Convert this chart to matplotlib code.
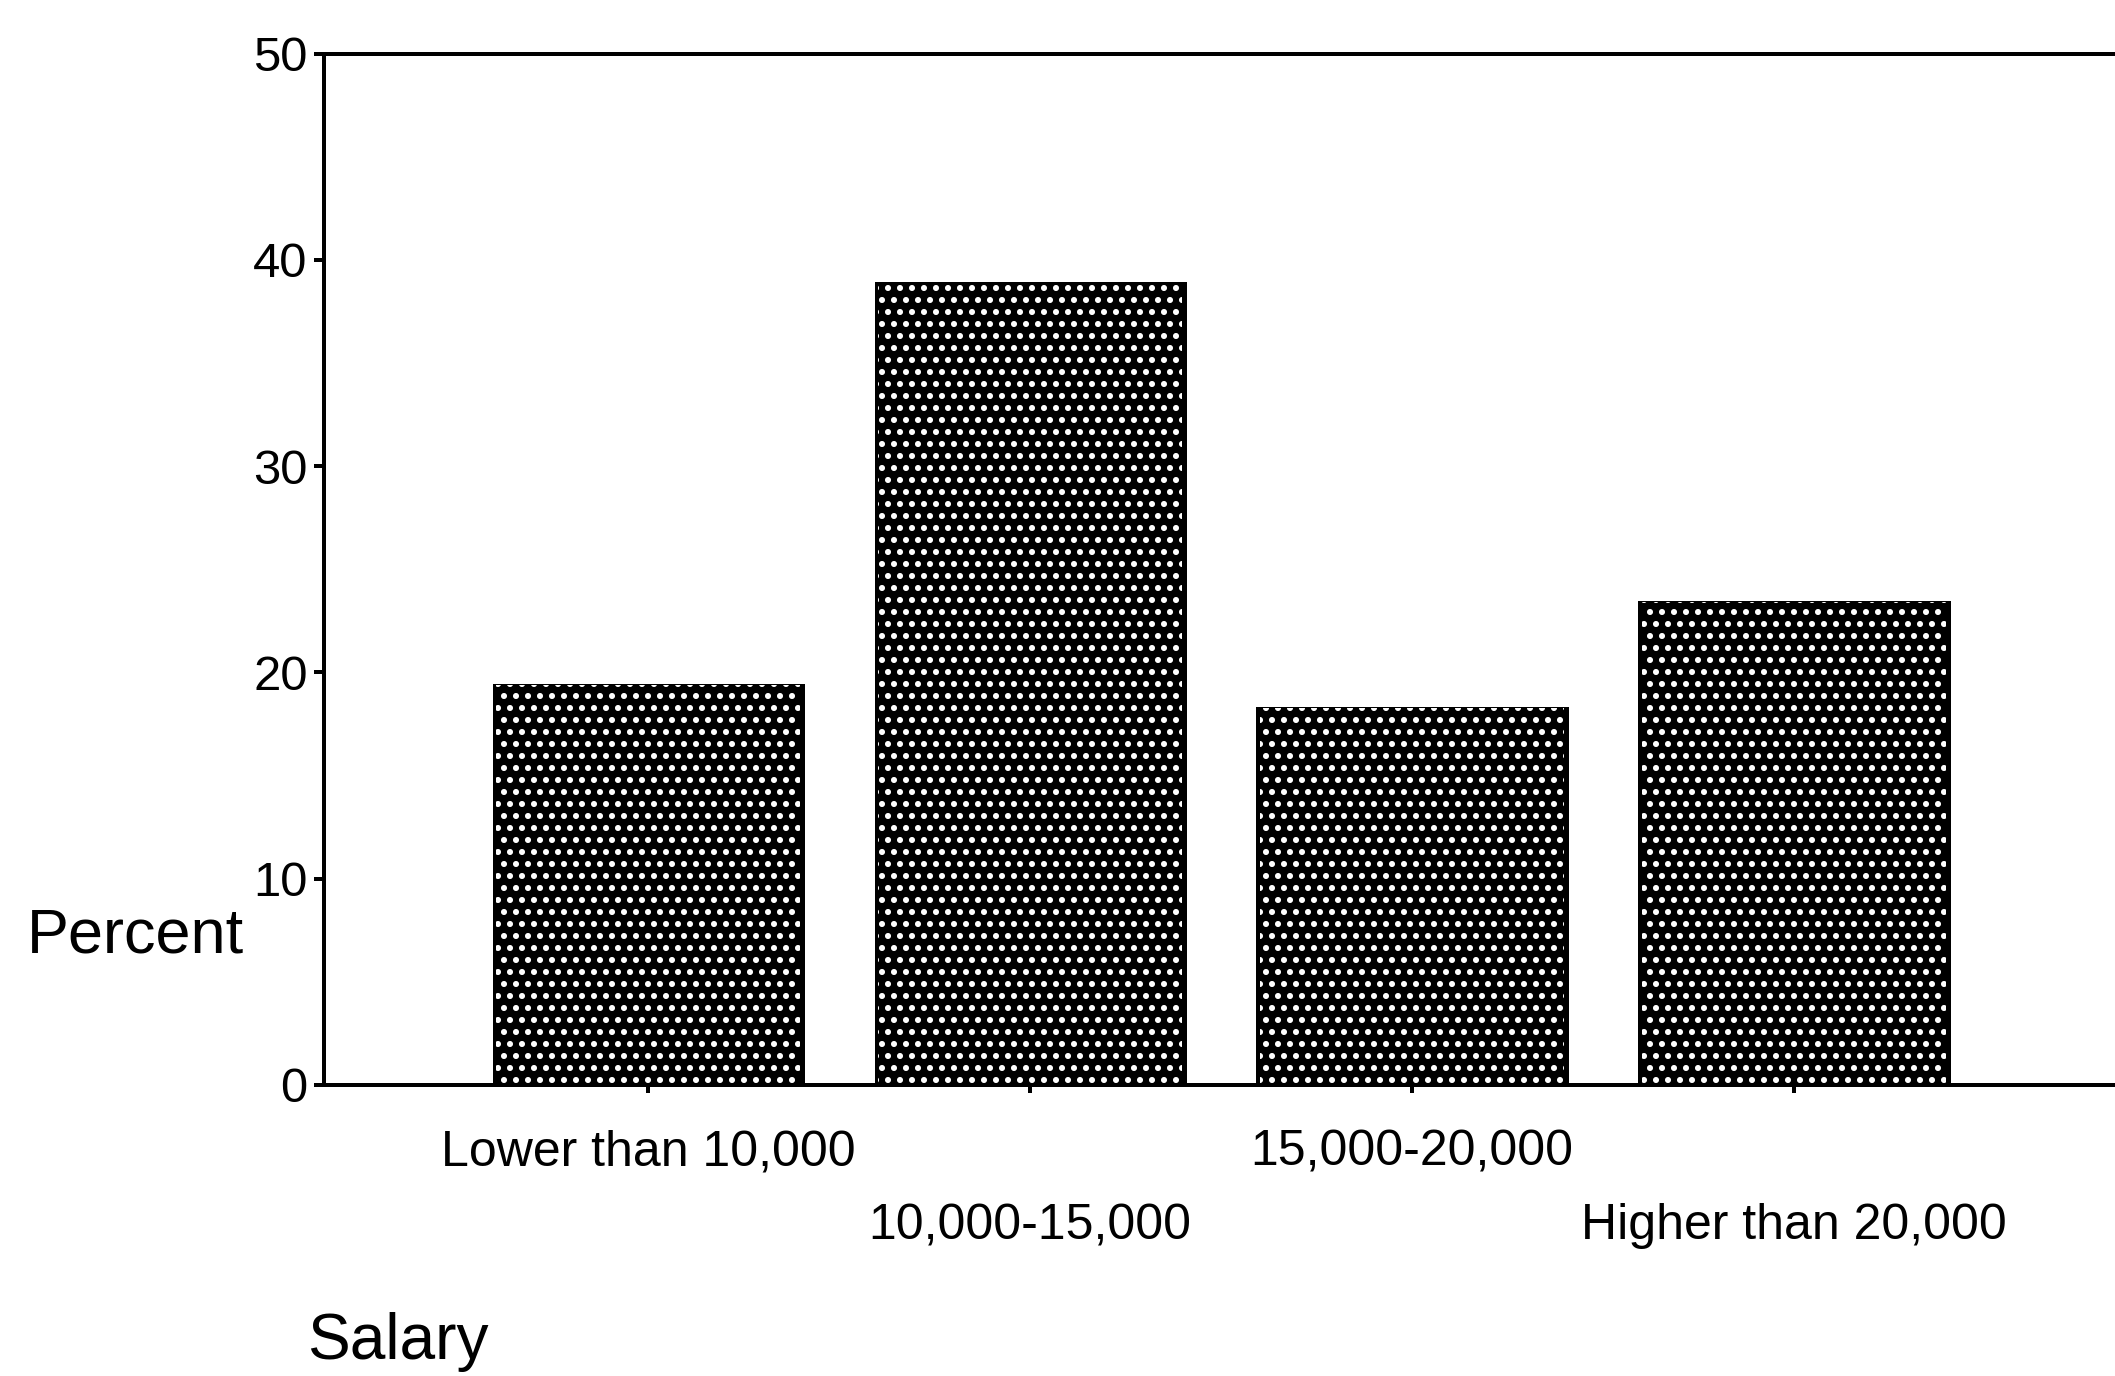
import numpy as np
import matplotlib.pyplot as plt
import matplotlib as mpl

mpl.rcParams['font.family'] = ['Liberation Sans', 'DejaVu Sans']
mpl.rcParams['hatch.color'] = 'white'
mpl.rcParams['hatch.linewidth'] = 1.8

#%% data

categories = ['Lower than 10,000', '10,000-15,000', '15,000-20,000', 'Higher than 20,000']
percent = [19.4, 38.9, 18.3, 23.4]
yticks = [0, 10, 20, 30, 40, 50]

#%% figure  (dpi 144 so the hatch dots come out about as coarse as the scan)

DPI = 144
fig = plt.figure(figsize=(2115 / DPI, 1376 / DPI), dpi=DPI)
ax = fig.add_axes([0.153, 0.2115, 0.847, 0.7495])

x = np.arange(len(categories))
# black bars, then white dot hatching laid over them
ax.bar(x, percent, width=0.81, color='black', edgecolor='black', linewidth=1.5)
ax.bar(x, percent, width=0.795, color='none', edgecolor='white', hatch='..', linewidth=0)

ax.set_xlim(-0.85, 3.84)
ax.set_ylim(0, 50)

ax.set_yticks(yticks)
ax.set_yticklabels([str(t) for t in yticks], fontsize=24.5)
ax.tick_params(axis='y', direction='out', length=5, width=2, pad=3)
ax.set_xticks(x)
ax.set_xticklabels([''] * len(x))
ax.tick_params(axis='x', direction='out', length=4, width=2)

for s in ['left', 'top', 'bottom']:
    ax.spines[s].set_linewidth(2)
ax.spines['right'].set_visible(False)

# staggered category labels
for i, lab in enumerate(categories):
    yoff = -0.065 if i % 2 == 0 else -0.137
    ax.text(x[i], yoff, lab, transform=ax.get_xaxis_transform(),
            ha='center', va='center', fontsize=25)

fig.text(0.064, 0.320, 'Percent', ha='center', va='center', fontsize=31.5)
fig.text(0.188, 0.025, 'Salary', ha='center', va='center', fontsize=32)

fig.savefig('out.png', dpi=DPI)
